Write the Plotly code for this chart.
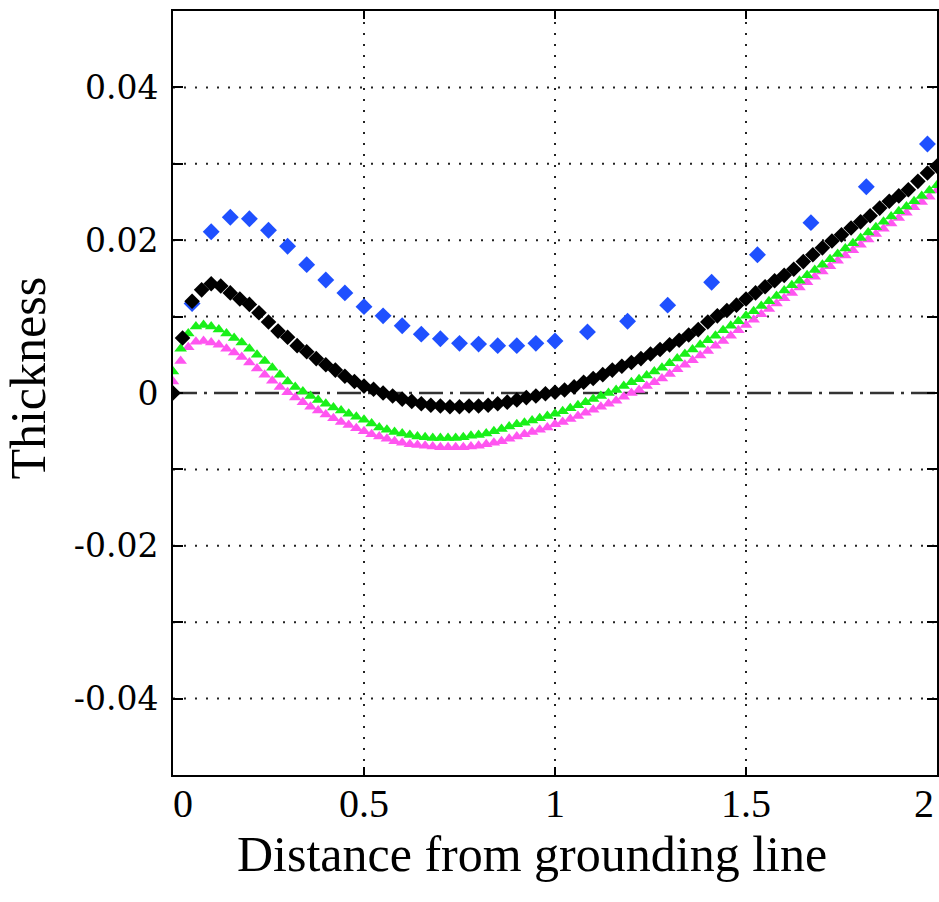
import numpy as np
import plotly.graph_objects as go

# ---------------- data ----------------
# black series, sampled every 0.025
black_x = np.round(np.arange(0, 81) * 0.025, 4)
black_y = [0.0, 0.0072, 0.0120, 0.0135, 0.0143, 0.0140, 0.0131, 0.0123, 0.0116, 0.0105,
           0.0093, 0.0081, 0.0073, 0.0062, 0.0054, 0.0045, 0.0037, 0.0030, 0.0022, 0.0015,
           0.0009, 0.0005, 0.0000, -0.0004, -0.0008, -0.0011, -0.0014, -0.0016, -0.0017, -0.0018,
           -0.0018, -0.0017, -0.0017, -0.0016, -0.0014, -0.0012, -0.0009, -0.0006, -0.0004, -0.0001,
           0.0001, 0.0004, 0.0008, 0.0014, 0.0019, 0.0024, 0.0030, 0.0035, 0.0040, 0.0045,
           0.0051, 0.0057, 0.0063, 0.0069, 0.0076, 0.0083, 0.0093, 0.0101, 0.0108, 0.0115,
           0.0123, 0.0131, 0.0139, 0.0147, 0.0154, 0.0162, 0.0172, 0.0181, 0.0190, 0.0199,
           0.0207, 0.0216, 0.0224, 0.0232, 0.0242, 0.0251, 0.0258, 0.0266, 0.0277, 0.0288,
           0.0297]

# green and magenta series, sampled every 0.02
band_x = np.round(np.arange(0, 101) * 0.02, 4)
green_y = [0.0028, 0.0058, 0.0078, 0.0087, 0.0089, 0.0087, 0.0083, 0.0078, 0.0072, 0.0066,
           0.0058, 0.0050, 0.0042, 0.0033, 0.0024, 0.0015, 0.0008, 0.0002, -0.0004, -0.0009,
           -0.0014, -0.0019, -0.0023, -0.0027, -0.0031, -0.0035, -0.0040, -0.0045, -0.0048, -0.0051,
           -0.0053, -0.0055, -0.0057, -0.0058, -0.0059, -0.0059, -0.0059, -0.0059, -0.0058, -0.0056,
           -0.0055, -0.0053, -0.0050, -0.0047, -0.0044, -0.0041, -0.0039, -0.0036, -0.0033, -0.0030,
           -0.0027, -0.0024, -0.0020, -0.0016, -0.0012, -0.0008, -0.0004, 0.0000, 0.0004, 0.0009,
           0.0014, 0.0018, 0.0023, 0.0028, 0.0033, 0.0039, 0.0045, 0.0051, 0.0057, 0.0063,
           0.0069, 0.0075, 0.0082, 0.0088, 0.0094, 0.0101, 0.0107, 0.0114, 0.0120, 0.0127,
           0.0134, 0.0141, 0.0147, 0.0154, 0.0161, 0.0168, 0.0175, 0.0182, 0.0189, 0.0196,
           0.0203, 0.0210, 0.0217, 0.0224, 0.0231, 0.0238, 0.0244, 0.0251, 0.0258, 0.0265,
           0.0272]
magenta_y = [0.0015, 0.0042, 0.0060, 0.0067, 0.0068, 0.0066, 0.0063, 0.0058, 0.0053, 0.0047,
             0.0040, 0.0032, 0.0024, 0.0016, 0.0008, 0.0001, -0.0006, -0.0012, -0.0018, -0.0023,
             -0.0028, -0.0033, -0.0038, -0.0042, -0.0046, -0.0050, -0.0054, -0.0057, -0.0060, -0.0063,
             -0.0065, -0.0067, -0.0068, -0.0069, -0.0070, -0.0071, -0.0071, -0.0071, -0.0071, -0.0070,
             -0.0069, -0.0067, -0.0065, -0.0063, -0.0060, -0.0057, -0.0054, -0.0051, -0.0048, -0.0045,
             -0.0041, -0.0038, -0.0034, -0.0030, -0.0026, -0.0022, -0.0018, -0.0014, -0.0010, -0.0005,
             0.0000, 0.0004, 0.0009, 0.0014, 0.0019, 0.0025, 0.0031, 0.0037, 0.0043, 0.0049,
             0.0055, 0.0062, 0.0068, 0.0075, 0.0082, 0.0089, 0.0096, 0.0103, 0.0110, 0.0117,
             0.0124, 0.0131, 0.0138, 0.0145, 0.0152, 0.0159, 0.0166, 0.0173, 0.0180, 0.0187,
             0.0194, 0.0201, 0.0208, 0.0215, 0.0222, 0.0229, 0.0236, 0.0243, 0.0250, 0.0257,
             0.0265]

# blue (sparse) series
blue_x = [0.05, 0.10, 0.15, 0.20, 0.25, 0.30, 0.35, 0.40, 0.45, 0.50,
          0.55, 0.60, 0.65, 0.70, 0.75, 0.80, 0.85, 0.90, 0.95, 1.00,
          1.085, 1.19, 1.295, 1.41, 1.53, 1.67, 1.815, 1.975]
blue_y = [0.0117, 0.0211, 0.0230, 0.0228, 0.0213, 0.0192, 0.0168, 0.0148, 0.0131, 0.0113,
          0.0101, 0.0088, 0.0077, 0.0071, 0.0065, 0.0064, 0.0062, 0.0062, 0.0065, 0.0068,
          0.0080, 0.0094, 0.0115, 0.0145, 0.0181, 0.0223, 0.0270, 0.0326]

x_ticks = [0, 0.5, 1, 1.5, 2]
x_tick_labels = ["\u00a0\u00a00", "0.5", "1", "1.5", ""]
x_last_label = "2"
y_ticks = [-0.04, -0.02, 0, 0.02, 0.04]
y_tick_labels = ["-0.04", "-0.02", "0", "0.02", "0.04"]
y_minor_ticks = [-0.03, -0.01, 0.01, 0.03]
y_grid = [-0.04, -0.03, -0.02, -0.01, 0.01, 0.02, 0.03, 0.04]

# ---------------- figure ----------------
fig = go.Figure()

fig.add_trace(go.Scatter(x=band_x, y=magenta_y, mode="markers",
                         marker=dict(symbol="triangle-up", size=11, color="#ff55f0",
                                     line=dict(width=0))))
fig.add_trace(go.Scatter(x=band_x, y=green_y, mode="markers",
                         marker=dict(symbol="triangle-up", size=11, color="#19f019",
                                     line=dict(width=0))))
fig.add_trace(go.Scatter(x=blue_x, y=blue_y, mode="markers",
                         marker=dict(symbol="diamond", size=13, color="#1f50ff",
                                     line=dict(width=0))))
fig.add_trace(go.Scatter(x=black_x, y=black_y, mode="markers",
                         marker=dict(symbol="diamond", size=12, color="#000000",
                                     line=dict(width=0))))

# horizontal dotted grid (not at zero, where the dash-dot line is)
for gy in y_grid:
    fig.add_shape(type="line", xref="x", yref="y", x0=0, x1=2, y0=gy, y1=gy,
                  line=dict(color="#222222", width=2, dash="2px,9px"), layer="below")
# dash-dot zero line
fig.add_shape(type="line", xref="x", yref="y", x0=0, x1=2, y0=0, y1=0,
              line=dict(color="#333333", width=2.5, dash="24px,7px,3px,7px"), layer="below")

fig.update_layout(
    width=939, height=902,
    margin=dict(l=173, r=2, t=11, b=127, autoexpand=False),
    paper_bgcolor="white", plot_bgcolor="white",
    showlegend=False,
    font=dict(family="Liberation Serif", color="black"),
)

fig.update_xaxes(
    range=[0, 2], tickvals=x_ticks, ticktext=x_tick_labels, automargin=False,
    showgrid=True, gridcolor="#222222", gridwidth=2, griddash="2px,9px",
    zeroline=False, showline=True, linecolor="black", linewidth=2, mirror="ticks",
    ticks="inside", ticklen=8, tickwidth=2, tickcolor="black",
    tickfont=dict(family="Liberation Serif", size=40, color="black"),
    ticklabelstandoff=-8, ticklabeloverflow="allow",
)
fig.update_yaxes(
    range=[-0.05, 0.05], tickvals=y_ticks, ticktext=y_tick_labels, automargin=False,
    showgrid=False, zeroline=False, showline=True, linecolor="black", linewidth=2,
    mirror="ticks", ticks="inside", ticklen=10, tickwidth=2, tickcolor="black",
    tickfont=dict(family="DejaVu Serif", size=33, color="black"),
    ticklabelstandoff=6,
    minor=dict(tickvals=y_minor_ticks, ticks="inside", ticklen=10, tickwidth=2,
               tickcolor="black", showgrid=False),
)

# last x tick label, right-aligned so it stays inside the page
fig.add_annotation(text=x_last_label, xref="x", yref="paper", x=x_ticks[-1], y=-0.037,
                   showarrow=False, xanchor="right", yanchor="middle", xshift=-1,
                   font=dict(family="Liberation Serif", size=40, color="black"))

fig.add_annotation(text="Thickness", xref="paper", yref="paper", x=-0.19, y=0.52,
                   textangle=-90, showarrow=False, xanchor="center", yanchor="middle",
                   font=dict(family="Liberation Serif", size=50, color="black"))
fig.add_annotation(text="Distance from grounding line", xref="paper", yref="paper",
                   x=0.47, y=-0.103, showarrow=False, xanchor="center", yanchor="middle",
                   font=dict(family="Liberation Serif", size=50, color="black"))

fig.write_html("out.html")
